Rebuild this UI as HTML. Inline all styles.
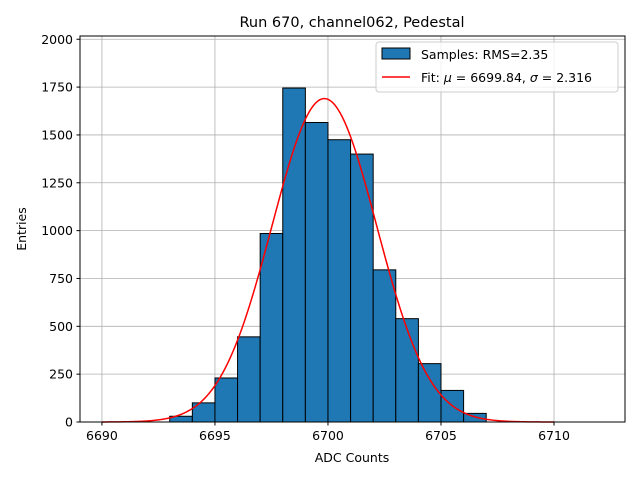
<!DOCTYPE html>
<html><head><meta charset="utf-8"><style>
body{margin:0;background:#fff;font-family:"Liberation Sans","DejaVu Sans",sans-serif}
svg text{font-family:"DejaVu Sans","Liberation Sans",sans-serif}
</style></head><body>
<svg id="chart" width="640" height="480" xmlns="http://www.w3.org/2000/svg">
<rect width="640" height="480" fill="#fff"/>
<g id="grid"></g><g id="bars"></g><path id="fit" fill="none" stroke="#ff0000" stroke-width="1.5"/>
<rect x="80" y="36" width="545" height="386" fill="none" stroke="#000" stroke-width="1"/>
<g id="ticks"></g>
<text x="352" y="27" font-size="14.5" text-anchor="middle">Run 670, channel062, Pedestal</text>
<text x="352" y="462" font-size="12.5" text-anchor="middle">ADC Counts</text>
<text x="26" y="229" font-size="12.5" text-anchor="middle" transform="rotate(-90 26 229)">Entries</text>
<g>
<rect x="376" y="42" width="242" height="50" rx="3" fill="#fff" fill-opacity="0.8" stroke="#ccc"/>
<rect x="382" y="48" width="28" height="11" fill="#1f77b4" stroke="#000"/>
<text x="421" y="59" font-size="12.5">Samples: RMS=2.35</text>
<line x1="382" y1="77" x2="410" y2="77" stroke="#ff0000" stroke-width="1.5"/>
<text x="421" y="82" font-size="12.5">Fit: <tspan font-style="italic">μ</tspan> = 6699.84, <tspan font-style="italic">σ</tspan> = 2.316</text>
</g>
</svg>
<script>
const binStarts=[6693,6694,6695,6696,6697,6698,6699,6700,6701,6702,6703,6704,6705,6706];
const counts=[30,100,230,445,985,1745,1565,1475,1400,795,540,305,165,45];
const xTicks=[6690,6695,6700,6705,6710];
const yTicks=[0,250,500,750,1000,1250,1500,1750,2000];
const fitMu=6699.84, fitSigma=2.316, fitAmp=1690;
const NS="http://www.w3.org/2000/svg";
const X0=80,X1=625,Y0=422,Y1=36,xmin=6689.03,xmax=6713.14,ymin=0,ymax=2017;
const xs=v=>X0+(v-xmin)/(xmax-xmin)*(X1-X0);
const ys=v=>Y0-(v-ymin)/(ymax-ymin)*(Y0-Y1);
function mk(t,a,p){const e=document.createElementNS(NS,t);for(const k in a)e.setAttribute(k,a[k]);p.appendChild(e);return e;}
const grid=document.getElementById('grid'),bars=document.getElementById('bars'),ticks=document.getElementById('ticks');
xTicks.forEach(v=>{const x=xs(v);
const g=mk('line',{x1:x,x2:x,y1:Y1,y2:Y0,stroke:'#b0b0b0','stroke-width':0.8},grid);


mk('line',{x1:x,x2:x,y1:Y0,y2:Y0+3.5,stroke:'#000'},ticks);
const t=mk('text',{x:x,y:Y0+18,'font-size':12.5,'text-anchor':'middle'},ticks);t.textContent=v;

});
yTicks.forEach(v=>{const y=ys(v);
const g=mk('line',{x1:X0,x2:X1,y1:y,y2:y,stroke:'#b0b0b0','stroke-width':0.8},grid);


mk('line',{x1:X0-3.5,x2:X0,y1:y,y2:y,stroke:'#000'},ticks);
const t=mk('text',{x:X0-7,y:y+4.5,'font-size':12.5,'text-anchor':'end'},ticks);t.textContent=v;

});
binStarts.forEach((b,i)=>{const x=xs(b),w=xs(b+1)-x,y=ys(counts[i]);
const r=mk('rect',{x:x,y:y,width:w,height:Y0-y,fill:'#1f77b4',stroke:'#000','stroke-width':1},bars);

});
let d='';for(let i=0;i<=400;i++){const v=6690+20*i/400;const f=fitAmp*Math.exp(-0.5*((v-fitMu)/fitSigma)**2);d+=(i?'L':'M')+xs(v).toFixed(2)+','+ys(f).toFixed(2);}
document.getElementById('fit').setAttribute('d',d);
</script>
</body></html>
